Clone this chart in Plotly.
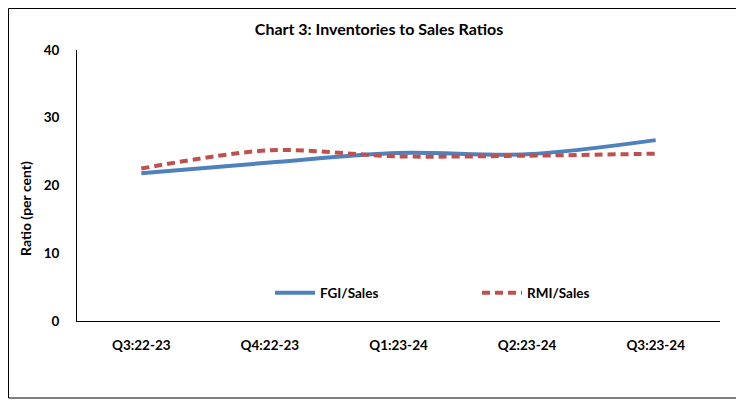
import plotly.graph_objects as go

categories = ["Q3:22-23", "Q4:22-23", "Q1:23-24", "Q2:23-24", "Q3:23-24"]
fgi_sales = [21.8, 23.4, 24.8, 24.6, 26.7]
rmi_sales = [22.5, 25.2, 24.3, 24.4, 24.7]
y_ticks = [0, 10, 20, 30, 40]

FONT = "Lato"
OFF = 8  # page body margin
W, H = 744 - OFF, 407 - OFF
# plot area in screenshot coords: x 77..720, y 50..321
L, R, T, B = 77 - OFF, 744 - 720, 50 - OFF, 407 - 321
pw, ph = W - L - R, H - T - B

def px(x):
    return (x - OFF - L) / pw

def py(y):
    return (H - B - (y - OFF)) / ph

fig = go.Figure()
fig.add_trace(go.Scatter(
    x=categories, y=fgi_sales, name="FGI/Sales", mode="lines",
    line=dict(color="#4F81BD", width=4, shape="spline", smoothing=0.9),
))
fig.add_trace(go.Scatter(
    x=categories, y=rmi_sales, name="RMI/Sales", mode="lines",
    line=dict(color="#C0504D", width=4, shape="spline", smoothing=0.9, dash="8px,5px"),
))

tf = dict(family=FONT, size=13.5, color="black", weight="bold")
fig.update_layout(
    width=W, height=H,
    margin=dict(l=L, r=R, t=T, b=B, autoexpand=False),
    paper_bgcolor="white", plot_bgcolor="white",
    font=dict(family=FONT, size=13, color="black"),
    title=dict(text="<b>Chart 3: Inventories to Sales Ratios</b>", x=px(379), xanchor="center",
               xref="paper", y=1 - (29 - OFF) / H, yanchor="middle",
               font=dict(family=FONT, size=16, color="black")),
    xaxis=dict(range=[-0.5, 4.5], showline=True, linecolor="black", linewidth=1, showgrid=False,
               ticks="", tickfont=tf, ticklabelstandoff=12),
    yaxis=dict(range=[0, 40], tickvals=y_ticks, showline=True, linecolor="black", linewidth=1,
               showgrid=False, zeroline=False, ticks="", ticklabelstandoff=14, tickfont=tf),
    legend=dict(orientation="h", x=px(270), y=py(293), xanchor="left", yanchor="middle",
                bgcolor="rgba(0,0,0,0)", font=dict(family=FONT, size=13.5, color="black", weight="bold"),
                entrywidth=152, entrywidthmode="pixels", itemwidth=40),
    showlegend=True,
)

fig.add_annotation(text="<b>Ratio (per cent)</b>", xref="paper", yref="paper",
                   x=px(25), y=py(209), textangle=-90, showarrow=False,
                   xanchor="center", yanchor="middle",
                   font=dict(family=FONT, size=14, color="black"))

fig.add_shape(type="rect", xref="paper", yref="paper",
              x0=px(8.5), x1=px(737), y0=py(398), y1=py(8.5),
              line=dict(color="black", width=1), fillcolor="rgba(0,0,0,0)", layer="below")

fig.write_html("out.html")
